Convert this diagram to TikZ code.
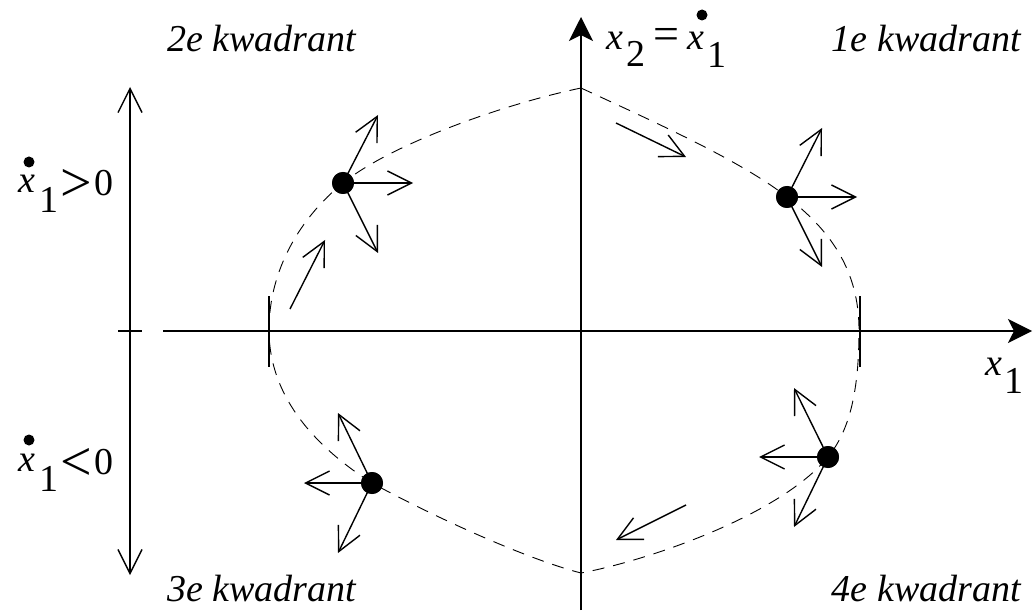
\documentclass[tikz,border=0pt]{standalone}
\usepackage{fontspec}
\setmainfont{Liberation Serif}
\usetikzlibrary{arrows.meta}
\begin{document}
\begin{tikzpicture}[x=1pt,y=-1pt,
  axisline/.style={line width=1.5pt,-{Stealth[length=24pt,width=24pt,inset=6pt]}},
  barb/.style={line width=1.4pt,-{Straight Barb[length=24pt,width=24pt]}},
  dbarb/.style={line width=1.4pt,{Straight Barb[length=24pt,width=24pt]}-{Straight Barb[length=24pt,width=24pt]}},
  tick/.style={line width=1.5pt},
  traj/.style={line width=0.9pt,dash pattern=on 12pt off 9pt},
  dot/.style={circle,fill=black,inner sep=0pt,minimum size=22pt},
  smalldot/.style={circle,fill=black,inner sep=0pt,minimum size=11pt},
  quad/.style={inner sep=0pt,font=\fontsize{38}{40}\selectfont\itshape},
  lab/.style={inner sep=0pt,anchor=base west,font=\fontsize{38}{40}\selectfont}
]
\useasboundingbox (0,0) rectangle (1033,612);

% axes
\coordinate (xl) at (163,331);
\coordinate (xr) at (1032,331);
\coordinate (yb) at (581,610);
\coordinate (yt) at (581,17);
\draw[axisline] (xl) -- (xr);
\draw[axisline] (yb) -- (yt);

% left sign axis
\coordinate (st) at (130,87);
\coordinate (sb) at (130,575);
\draw[dbarb] (sb) -- (st);
\coordinate (sl) at (118,331);
\coordinate (sr) at (142,331);
\draw[tick] (sl) -- (sr);

% ticks where trajectory crosses x1 axis
\coordinate (tl1) at (269,296); \coordinate (tl2) at (269,367);
\coordinate (tr1) at (860,296); \coordinate (tr2) at (860,367);
\draw[tick] (tl1) -- (tl2);
\draw[tick] (tr1) -- (tr2);

% trajectory
\coordinate (top) at (581,88);
\coordinate (bot) at (581,573);
\coordinate (lft) at (269,330);
\coordinate (rgt) at (859,330);
\node[dot] (d1) at (343,183) {};
\node[dot] (d2) at (787,197) {};
\node[dot] (d3) at (372,483) {};
\node[dot] (d4) at (828,457) {};
\draw[traj] (top) .. controls (650,120) and (740,160) .. (d2.center)
  .. controls (830,230) and (859,270) .. (rgt)
  .. controls (859,390) and (850,430) .. (d4.center)
  .. controls (780,515) and (650,560) .. (bot)
  .. controls (530,560) and (440,520) .. (d3.center)
  .. controls (320,450) and (269,400) .. (lft)
  .. controls (269,270) and (300,218) .. (d1.center)
  .. controls (390,145) and (500,105) .. (top);

% arrows from the points
\draw[barb] (d1.center) -- ++(35,-68);
\draw[barb] (d1.center) -- ++(70,0);
\draw[barb] (d1.center) -- ++(35,70);
\draw[barb] (d2.center) -- ++(35,-69);
\draw[barb] (d2.center) -- ++(70,0);
\draw[barb] (d2.center) -- ++(35,70);
\draw[barb] (d3.center) -- ++(-34,-70);
\draw[barb] (d3.center) -- ++(-68,0);
\draw[barb] (d3.center) -- ++(-34,70);
\draw[barb] (d4.center) -- ++(-34,-69);
\draw[barb] (d4.center) -- ++(-69,0);
\draw[barb] (d4.center) -- ++(-34,70);
% redraw dots on top
\fill (d1) circle (11pt); \fill (d2) circle (11pt);
\fill (d3) circle (11pt); \fill (d4) circle (11pt);

% flow direction arrows
\coordinate (fa1) at (290,309); \coordinate (fa2) at (325,240);
\coordinate (fb1) at (616,123); \coordinate (fb2) at (686,157);
\coordinate (fc1) at (686,505); \coordinate (fc2) at (616,540);
\draw[barb] (fa1) -- (fa2);
\draw[barb] (fb1) -- (fb2);
\draw[barb] (fc1) -- (fc2);

% quadrant labels
\node[quad,anchor=base west] (q2) at (167,52) {2e kwadrant};
\node[quad,anchor=base east] (q1) at (1021,52) {1e kwadrant};
\node[quad,anchor=base west] (q3) at (167,601) {3e kwadrant};
\node[quad,anchor=base east] (q4) at (1021,601) {4e kwadrant};

% axis labels
\node[lab] (ylab) at (606,50) {\textit{x}\kern3pt\raisebox{-17pt}{2}\kern8pt{\fontsize{46}{46}\selectfont=}\kern8pt\textit{x}\kern4pt\raisebox{-18pt}{1}};
\node[smalldot] (ydot) at (702,15) {};
\node[lab] (xlab) at (985,375) {\textit{x}\kern2pt\raisebox{-18pt}{1}};
\node[lab] (pos) at (18,193) {\textit{x}\kern4pt\raisebox{-20pt}{1}\kern2pt\raisebox{-9pt}{\fontsize{56}{56}\selectfont>}\kern3pt\raisebox{-3pt}{0}};
\node[smalldot] (posdot) at (29,162) {};
\node[lab] (neg) at (18,471) {\textit{x}\kern4pt\raisebox{-20pt}{1}\kern2pt\raisebox{-9pt}{\fontsize{56}{56}\selectfont<}\kern3pt\raisebox{-3pt}{0}};
\node[smalldot] (negdot) at (29,440) {};
\end{tikzpicture}
\end{document}
